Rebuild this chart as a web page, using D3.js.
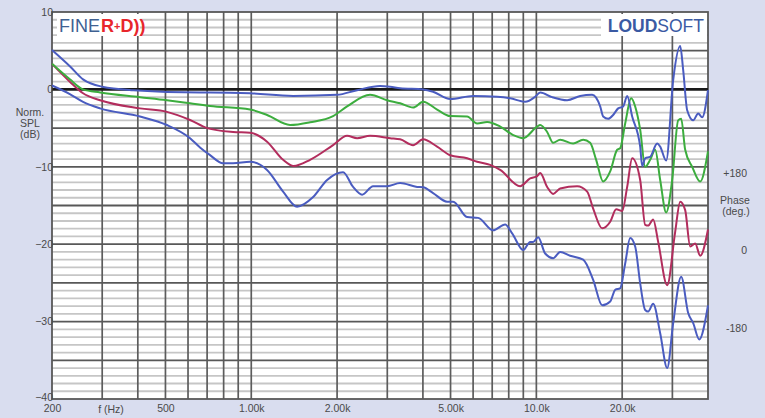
<!DOCTYPE html>
<html><head><meta charset="utf-8">
<script src="https://cdn.jsdelivr.net/npm/d3@7"></script>
<style>body{margin:0;background:#d9ddef}svg{display:block}</style>
</head><body><svg id="c" width="765" height="418"></svg>
<script>
// ---------- data (frequency in Hz, level in dB) ----------
const blueTop = [[200,5.1],[231,3.0],[257,1.3],[300,0.35],[385,-0.1],[661,-0.4],[717,-0.4],[990,-0.5],[1402,-0.85],[2000,-0.7],[2351,-0.1],[2831,0.45],[3070,0.35],[3328,0.15],[4006,0],[4343,-0.3],[4984,-1.25],[6000,-0.85],[7286,-0.95],[8094,-1.15],[9134,-1.6],[9904,-0.95],[10312,-0.4],[11360,-1.0],[12824,-1.4],[14244,-0.85],[15696,-0.7],[16744,-2.2],[17154,-3.5],[17862,-3.8],[18598,-3.3],[19364,-2.45],[20162,-2.2],[20824,-0.85],[21682,-3.5],[23130,-7.4],[23506,-9.9],[24082,-8.9],[25074,-8.7],[26534,-7.0],[27186,-7.4],[28536,-9.2],[30194,1.2],[31952,5.6],[32736,2.5],[33812,-2.7],[35492,-4.0],[36956,-3.1],[38168,-3.6],[40000,-0.1]];
const green = [[200,3.3],[231,1.3],[257,0],[295,-0.4],[407,-1.0],[506,-1.4],[610,-1.8],[717,-2.15],[990,-2.6],[1136,-3.3],[1368,-4.6],[1608,-4.25],[1936,-3.45],[2168,-2.2],[2610,-0.7],[2996,-1.4],[3328,-1.8],[3696,-2.35],[4006,-1.6],[4486,-2.6],[4984,-3.45],[5716,-3.5],[6198,-4.4],[6720,-4.2],[7466,-4.8],[8292,-5.9],[8988,-6.3],[10066,-4.8],[10312,-4.6],[10912,-5.5],[11452,-6.9],[12120,-6.5],[13460,-7.0],[14594,-6.5],[15440,-6.9],[16210,-9.1],[17154,-11.9],[18154,-10.6],[19208,-7.8],[19680,-7.6],[20490,-4.4],[21508,-1.15],[22214,-2.2],[23130,-5.2],[24082,-10.0],[25074,-9.1],[26108,-7.8],[27186,-11.7],[28536,-15.9],[29952,-11.7],[31438,-4.0],[32210,-3.8],[33268,-7.8],[35206,-10.0],[37556,-11.9],[40000,-8.0]];
const crimson = [[200,3.3],[231,1.0],[257,-0.5],[295,-1.4],[407,-2.45],[506,-2.9],[610,-3.95],[700,-5.0],[863,-5.5],[990,-5.6],[1136,-6.75],[1293,-9.1],[1407,-9.9],[1608,-9.1],[1936,-7.2],[2168,-6.0],[2351,-6.3],[2610,-6.0],[3070,-6.3],[3328,-6.45],[3696,-7.2],[4006,-6.45],[4486,-7.4],[4984,-8.5],[5716,-8.9],[6198,-9.35],[6884,-9.75],[7466,-10.4],[8772,-12.5],[9512,-11.5],[10066,-11.2],[10312,-10.8],[10912,-12.6],[11452,-13.5],[12120,-12.8],[13902,-12.5],[15074,-13.2],[15822,-15.4],[17016,-17.95],[18154,-17.1],[19054,-15.5],[20000,-15.7],[20824,-12.6],[21682,-8.9],[23130,-11.7],[24082,-17.5],[24672,-17.6],[25690,-16.8],[26750,-19.7],[28768,-25.3],[30686,-18.4],[31952,-14.5],[33268,-15.6],[34642,-20.3],[36072,-19.9],[37556,-21.5],[40000,-18.1]];
const blueLow = [[200,0.5],[231,-0.6],[257,-1.6],[295,-2.45],[407,-3.5],[506,-4.6],[610,-6.3],[661,-7.5],[717,-8.5],[796,-9.55],[863,-9.55],[990,-9.35],[1136,-10.4],[1293,-13.2],[1448,-15.15],[1648,-13.9],[1845,-11.7],[2099,-10.7],[2276,-12.6],[2448,-13.6],[2674,-12.5],[2996,-12.5],[3328,-12.1],[3818,-12.6],[4006,-12.65],[4343,-13.4],[4864,-14.5],[5106,-14.5],[5716,-16.5],[6248,-16.6],[7054,-18.2],[7772,-17.45],[8224,-18.6],[8988,-20.75],[9512,-19.7],[9744,-19.7],[10148,-19.1],[10738,-21.2],[11452,-21.8],[12120,-21.0],[13138,-21.5],[14594,-22.0],[15822,-24.6],[17016,-27.9],[18154,-27.4],[18900,-25.9],[19680,-25.7],[20490,-22.5],[21334,-19.2],[22214,-20.3],[23130,-25.05],[24082,-28.5],[24672,-28.7],[25690,-27.7],[27186,-31.5],[28768,-36.0],[30194,-30.2],[32210,-24.2],[34086,-28.9],[35492,-30.2],[37256,-32.3],[40000,-27.9]];

const xTickValues = [200, 500, 1000, 2000, 5000, 10000, 20000];
const xTickLabels = ["200", "500", "1.00k", "2.00k", "5.00k", "10.0k", "20.0k"];
const yTickValues = [10, 0, -10, -20, -30, -40];
const phaseTickValues = [180, 0, -180];
const phaseTickLabels = ["+180", "0", "-180"];
const xGridValues = [300,400,500,600,700,800,900,1000,2000,3000,4000,5000,6000,7000,8000,9000,10000,20000,30000];

// ---------- drawing ----------
const svg = d3.select("#c");
const W = 765, H = 418;
const x = d3.scaleLog().domain([200, 40000]).range([52, 708]);
const y = d3.scaleLinear().domain([-40, 10]).range([399, 12]);
const yPhase = d3.scaleLinear().domain([-180, 180]).range([y(-30.8), y(-10.8)]);
const font = "'Liberation Sans', Arial, sans-serif";

svg.append("rect").attr("width", W).attr("height", H).attr("fill", "#d9ddef");
svg.append("rect").attr("x", x(200)).attr("y", y(10)).attr("width", x(40000) - x(200)).attr("height", y(-40) - y(10)).attr("fill", "#fff");

const grid = svg.append("g");
d3.range(-39, 10).filter(v => v % 5 !== 0).forEach(v => {
  grid.append("line").attr("x1", x(200)).attr("x2", x(40000)).attr("y1", y(v)).attr("y2", y(v))
    .attr("stroke", "#c6c6c6").attr("stroke-width", 1.8);
});
xGridValues.forEach(f => {
  grid.append("line").attr("x1", x(f)).attr("x2", x(f)).attr("y1", y(10)).attr("y2", y(-40))
    .attr("stroke", "#5c5c5c").attr("stroke-width", 1.7);
});
d3.range(-35, 10, 5).filter(v => v !== 0).forEach(v => {
  grid.append("line").attr("x1", x(200)).attr("x2", x(40000)).attr("y1", y(v)).attr("y2", y(v))
    .attr("stroke", "#585858").attr("stroke-width", 1.8);
});
grid.append("rect").attr("x", x(200)).attr("y", y(10)).attr("width", x(40000) - x(200)).attr("height", y(-40) - y(10))
  .attr("fill", "none").attr("stroke", "#585858").attr("stroke-width", 1.8);
grid.append("line").attr("x1", x(200)).attr("x2", x(40000)).attr("y1", y(0)).attr("y2", y(0))
  .attr("stroke", "#1a1a1a").attr("stroke-width", 2.6);

// logos on white boxes
svg.append("rect").attr("x", 57).attr("y", 14).attr("width", 83).attr("height", 22).attr("fill", "#fff");
svg.append("rect").attr("x", 601).attr("y", 14).attr("width", 106).attr("height", 22).attr("fill", "#fff");
const fine = svg.append("text").attr("x", 59).attr("y", 32).attr("font-family", font).attr("font-size", 18);
fine.append("tspan").attr("fill", "#3f6192").text("FINE");
fine.append("tspan").attr("fill", "#e8262c").attr("font-weight", "bold").attr("dx", 1).text("R");
fine.append("tspan").attr("fill", "#e8262c").attr("font-weight", "bold").attr("font-size", 11).attr("dy", -2).text("+");
fine.append("tspan").attr("fill", "#e8262c").attr("font-weight", "bold").attr("dy", 2).text("D))");
const loud = svg.append("text").attr("x", 704).attr("y", 32).attr("text-anchor", "end").attr("font-family", font).attr("font-size", 17.5).attr("fill", "#3a5aa3");
loud.append("tspan").attr("font-weight", "bold").text("LOUD");
loud.append("tspan").text("SOFT");

// curves
const line = d3.line().x(d => x(d[0])).y(d => y(d[1])).curve(d3.curveMonotoneX);
const series = [
  {data: blueLow, color: "#4a5cc0"},
  {data: crimson, color: "#b22d5d"},
  {data: green, color: "#3cad3e"},
  {data: blueTop, color: "#4a5cc0"}
];
series.forEach(s => {
  svg.append("path").datum(s.data).attr("d", line).attr("fill", "none")
    .attr("stroke", s.color).attr("stroke-width", 2).attr("stroke-linejoin", "round");
});

// axes (labels only)
const yAxis = d3.axisLeft(y).tickValues(yTickValues).tickSize(0).tickPadding(0).tickFormat(d3.format("d"));
const gy = svg.append("g").attr("transform", `translate(${x(200) + 1},0)`).call(yAxis);
const xAxis = d3.axisBottom(x).tickValues(xTickValues).tickSize(0).tickPadding(6)
  .tickFormat((d, i) => xTickLabels[i]);
const gx = svg.append("g").attr("transform", `translate(0,${y(-40)})`).call(xAxis);
const pAxis = d3.axisRight(yPhase).tickValues(phaseTickValues).tickSize(0).tickPadding(0)
  .tickFormat((d, i) => phaseTickLabels[i]);
const gp = svg.append("g").attr("transform", "translate(747,0)").call(pAxis);
[gx, gy, gp].forEach(g => {
  g.select(".domain").remove();
  g.selectAll("text").attr("font-family", font).attr("font-size", 10.5).attr("fill", "#4a4a4a");
});
gp.selectAll("text").attr("text-anchor", "end");
gy.selectAll(".tick").filter(d => d === -40).select("text").attr("y", -1.5);

// axis titles
const lbl = (t, px, py) => svg.append("text").attr("x", px).attr("y", py).attr("text-anchor", "middle")
  .attr("dominant-baseline", "middle").attr("font-family", font).attr("font-size", 10.5).attr("fill", "#4a4a4a").text(t);
lbl("Norm.", 30, 113); lbl("SPL", 30, 124); lbl("(dB)", 30, 135);
lbl("f (Hz)", 111, 410);
lbl("Phase", 735, 201); lbl("(deg.)", 736, 212);
</script></body></html>
